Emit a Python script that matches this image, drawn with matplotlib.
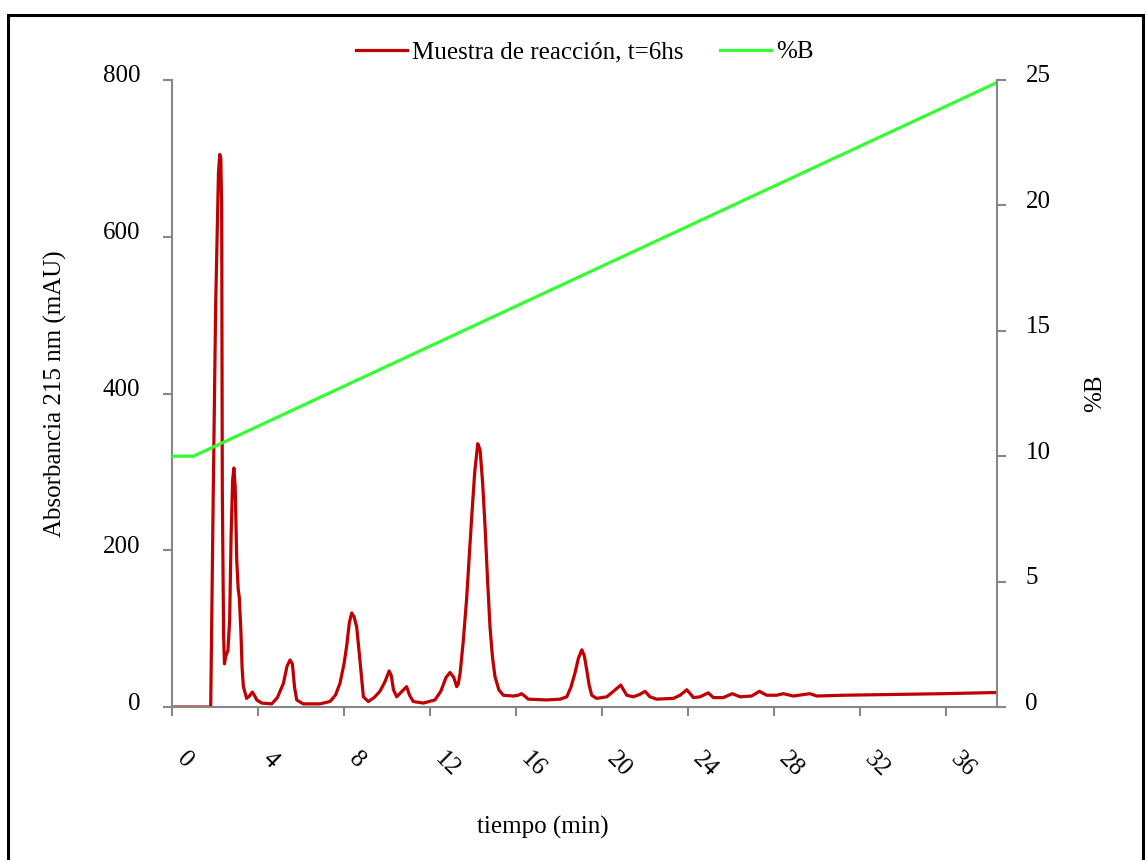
import numpy as np
import matplotlib
matplotlib.use("Agg")
import matplotlib.pyplot as plt
from matplotlib.patches import Rectangle
from matplotlib.transforms import ScaledTranslation

plt.rcParams["font.family"] = ["Liberation Serif", "DejaVu Serif"]

# Chromatogram: retention time (min) and absorbance at 215 nm (mAU)
time_min = [
    0.0, 1.80, 1.92, 2.03, 2.16, 2.22, 2.27, 2.31, 2.34, 2.40, 2.44, 2.50, 2.60,
    2.68, 2.75, 2.82, 2.88, 2.94, 3.01, 3.08, 3.13, 3.20, 3.26, 3.32, 3.47, 3.60,
    3.74, 3.85, 3.94, 4.17, 4.64, 4.90, 5.18, 5.35, 5.49, 5.60, 5.70, 5.80, 6.10,
    6.88, 7.35, 7.60, 7.81, 8.00, 8.12, 8.25, 8.36, 8.47, 8.59, 8.74, 8.90, 9.13,
    9.40, 9.67, 9.90, 10.10, 10.20, 10.30, 10.45, 10.70, 10.91, 11.05, 11.22,
    11.69, 12.23, 12.50, 12.75, 12.93, 13.10, 13.24, 13.32, 13.40, 13.55, 13.70,
    13.82, 13.94, 14.08, 14.22, 14.33, 14.45, 14.56, 14.68, 14.79, 14.90, 15.02,
    15.20, 15.41, 15.88, 16.10, 16.26, 16.40, 16.57, 17.43, 18.05, 18.36, 18.55,
    18.74, 18.90, 19.06, 19.18, 19.29, 19.40, 19.52, 19.75, 20.22, 20.53, 20.87,
    21.00, 21.15, 21.46, 21.75, 22.00, 22.23, 22.54, 23.32, 23.63, 23.94, 24.10,
    24.25, 24.56, 24.94, 25.18, 25.64, 26.06, 26.42, 26.96, 27.32, 27.66, 28.12,
    28.43, 28.90, 29.67, 29.99, 31.22, 33.55, 35.87, 38.37,
]
absorbance = [
    0, 0, 277, 511, 681, 705, 700, 638, 277, 90, 55, 65, 72,
    110, 220, 290, 305, 280, 188, 150, 140, 100, 50, 26, 11, 14,
    19, 14, 9, 5, 4, 12, 30, 52, 60, 55, 25, 9, 4,
    4, 7, 15, 30, 55, 77, 108, 120, 115, 102, 60, 13, 7,
    12, 20, 32, 46, 40, 22, 13, 20, 26, 15, 7,
    5, 9, 20, 38, 44, 38, 26, 30, 43, 85, 137,
    190, 243, 300, 336, 328, 285, 230, 160, 102, 65, 39,
    22, 15, 14, 15, 17, 14, 10, 9, 10, 13, 25,
    43, 62, 73, 65, 47, 28, 15, 11, 13, 20, 28,
    22, 15, 13, 16, 20, 13, 10, 11, 15, 22, 17,
    12, 13, 18, 12, 12, 17, 13, 14, 20, 15, 15,
    17, 14, 17, 14, 15, 16, 17, 18.5,
]

# Gradient program: time (min) and %B
grad_time = [0.0, 1.0, 38.37]
grad_b = [10.0, 10.0, 24.9]

x_ticks = [0, 4, 8, 12, 16, 20, 24, 28, 32, 36]
left_ticks = [0, 200, 400, 600, 800]
right_ticks = [0, 5, 10, 15, 20, 25]

RED = "#C00000"
GREEN = "#33FF33"
GREY = "#878787"
FS = 18

W, H = 1146, 860
fig = plt.figure(figsize=(W / 100, H / 100), dpi=100)
fig.patch.set_facecolor("white")

# outer frame
fig.patches.append(Rectangle((8 / W, -0.05), (1143 - 8) / W, 1 - 15 / H + 0.05,
                             transform=fig.transFigure, fill=False,
                             edgecolor="black", linewidth=2.2, zorder=0))

ax = fig.add_axes([172 / W, 1 - 707 / H, (997 - 172) / W, (707 - 80) / H])
ax2 = ax.twinx()

l1, = ax.plot(time_min, absorbance, color=RED, lw=2.3,
              label="Muestra de reacción, t=6hs", solid_joinstyle="round")
l2, = ax2.plot(grad_time, grad_b, color=GREEN, lw=2.3, label="%B")

ax.set_xlim(0, 38.37)
ax.set_ylim(0, 800)
ax2.set_ylim(0, 25)

ax.set_xticks(x_ticks)
ax.set_xticklabels([str(v) for v in x_ticks], rotation=-45, ha="left", va="top")
ax.set_yticks(left_ticks)
ax2.set_yticks(right_ticks)

for a in (ax, ax2):
    a.spines["top"].set_visible(False)
    for s in a.spines.values():
        s.set_color(GREY)
        s.set_linewidth(1.5)
ax.spines["right"].set_visible(False)
ax2.spines["left"].set_visible(False)
ax2.spines["bottom"].set_visible(False)

ax.tick_params(axis="both", direction="out", length=6.5, width=1.5,
               color=GREY, labelsize=FS, labelcolor="black")
ax.tick_params(axis="x", pad=23)
ax.tick_params(axis="y", pad=16.5)
ax2.tick_params(axis="y", direction="out", length=6.5, width=1.5,
                color=GREY, labelsize=FS, labelcolor="black", pad=14)

# value labels sit slightly above their tick marks
lift = ScaledTranslation(0, 6 / 100, fig.dpi_scale_trans)
for lab in ax.get_yticklabels() + ax2.get_yticklabels():
    lab.set_transform(lab.get_transform() + lift)

ax.set_xlabel("tiempo (min)", fontsize=FS)
ax.xaxis.set_label_coords((543 - 172) / 825, (707 - 827) / 627)
ax.xaxis.label.set_verticalalignment("center")

ax.set_ylabel("Absorbancia 215 nm (mAU)", fontsize=FS)
ax.yaxis.set_label_coords((55 - 172) / 825, 0.5)
ax.yaxis.label.set_verticalalignment("center")

ax2.set_ylabel("%B", fontsize=FS)
ax2.yaxis.set_label_coords((1095 - 172) / 825, 0.5)
ax2.yaxis.label.set_verticalalignment("center")

leg = ax.legend(handles=[l1, l2], loc="center", ncol=2, frameon=False,
                bbox_to_anchor=(0.5, 1 + (80 - 52) / 627), fontsize=FS,
                handlelength=2.05, handletextpad=0.2, columnspacing=1.45,
                borderaxespad=0)

fig.savefig("out.png", dpi=100, facecolor="white")
